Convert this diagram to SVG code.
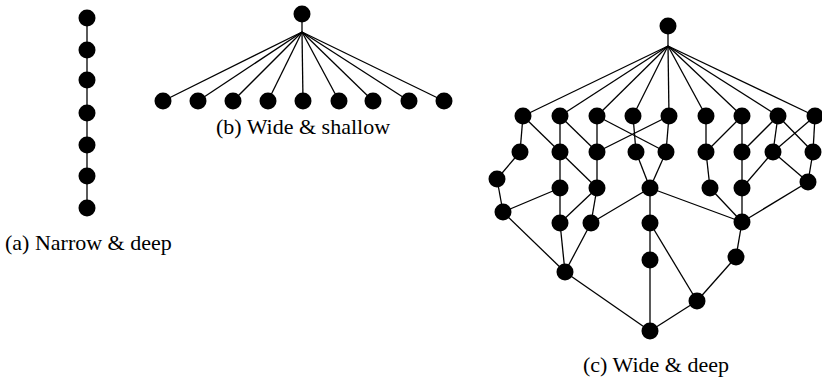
<svg xmlns="http://www.w3.org/2000/svg" width="822" height="379" viewBox="0 0 822 379">
  <style>
    .edge { stroke: #000; stroke-width: 1.3; fill: none; }
    .node { fill: #000; }
    .label { font-family: "Liberation Serif", "DejaVu Serif", serif; font-size: 22px; fill: #000; }
  </style>
  <rect width="822" height="379" fill="#fff"/>

  <!-- (a) chain -->
  <g id="edges-a">
    <line class="edge" x1="87" y1="18" x2="87" y2="208"/>
  </g>
  <g id="graph-a">
    <circle id="a-n1" class="node" cx="87" cy="18" r="8.5"/>
    <circle id="a-n2" class="node" cx="87" cy="50" r="8.5"/>
    <circle id="a-n3" class="node" cx="87" cy="80" r="8.5"/>
    <circle id="a-n4" class="node" cx="87" cy="113" r="8.5"/>
    <circle id="a-n5" class="node" cx="87" cy="145" r="8.5"/>
    <circle id="a-n6" class="node" cx="87" cy="176" r="8.5"/>
    <circle id="a-n7" class="node" cx="87" cy="208" r="8.5"/>
  </g>
  <text class="label" x="5" y="250">(a) Narrow &amp; deep</text>

  <!-- (b) star -->
  <g id="edges-b">
    <line class="edge" x1="302" y1="14" x2="302" y2="32"/>
    <line class="edge" x1="302" y1="32" x2="163" y2="101"/>
    <line class="edge" x1="302" y1="32" x2="198" y2="101"/>
    <line class="edge" x1="302" y1="32" x2="233" y2="101"/>
    <line class="edge" x1="302" y1="32" x2="268" y2="101"/>
    <line class="edge" x1="302" y1="32" x2="303" y2="101"/>
    <line class="edge" x1="302" y1="32" x2="339" y2="101"/>
    <line class="edge" x1="302" y1="32" x2="373" y2="101"/>
    <line class="edge" x1="302" y1="32" x2="409" y2="101"/>
    <line class="edge" x1="302" y1="32" x2="444" y2="101"/>
  </g>
  <g id="graph-b">
    <circle id="b-root" class="node" cx="302" cy="14" r="8.5"/>
    <circle id="b-1" class="node" cx="163" cy="101" r="8.5"/>
    <circle id="b-2" class="node" cx="198" cy="101" r="8.5"/>
    <circle id="b-3" class="node" cx="233" cy="101" r="8.5"/>
    <circle id="b-4" class="node" cx="268" cy="101" r="8.5"/>
    <circle id="b-5" class="node" cx="303" cy="101" r="8.5"/>
    <circle id="b-6" class="node" cx="339" cy="101" r="8.5"/>
    <circle id="b-7" class="node" cx="373" cy="101" r="8.5"/>
    <circle id="b-8" class="node" cx="409" cy="101" r="8.5"/>
    <circle id="b-9" class="node" cx="444" cy="101" r="8.5"/>
  </g>
  <text class="label" x="303" y="134" text-anchor="middle">(b) Wide &amp; shallow</text>

  <!-- (c) layered DAG -->
  <g id="edges-c">
    <line class="edge" x1="668" y1="26" x2="668" y2="46"/>
    <line class="edge" x1="668" y1="46" x2="523" y2="116"/>
    <line class="edge" x1="668" y1="46" x2="560" y2="116"/>
    <line class="edge" x1="668" y1="46" x2="597" y2="116"/>
    <line class="edge" x1="668" y1="46" x2="633" y2="116"/>
    <line class="edge" x1="668" y1="46" x2="669" y2="116"/>
    <line class="edge" x1="668" y1="46" x2="706" y2="116"/>
    <line class="edge" x1="668" y1="46" x2="742" y2="116"/>
    <line class="edge" x1="668" y1="46" x2="778" y2="116"/>
    <line class="edge" x1="668" y1="46" x2="815" y2="116"/>
    <!-- level 1 to level 2 -->
    <line class="edge" x1="523" y1="116" x2="520" y2="152"/>
    <line class="edge" x1="523" y1="116" x2="560" y2="152"/>
    <line class="edge" x1="560" y1="116" x2="560" y2="152"/>
    <line class="edge" x1="560" y1="116" x2="597" y2="152"/>
    <line class="edge" x1="597" y1="116" x2="597" y2="152"/>
    <line class="edge" x1="597" y1="116" x2="666" y2="152"/>
    <line class="edge" x1="633" y1="116" x2="636" y2="152"/>
    <line class="edge" x1="669" y1="116" x2="597" y2="152"/>
    <line class="edge" x1="669" y1="116" x2="666" y2="152"/>
    <line class="edge" x1="706" y1="116" x2="706" y2="152"/>
    <line class="edge" x1="742" y1="116" x2="706" y2="152"/>
    <line class="edge" x1="742" y1="116" x2="742" y2="152"/>
    <line class="edge" x1="778" y1="116" x2="742" y2="152"/>
    <line class="edge" x1="778" y1="116" x2="773" y2="152"/>
    <line class="edge" x1="778" y1="116" x2="813" y2="152"/>
    <line class="edge" x1="815" y1="116" x2="773" y2="152"/>
    <line class="edge" x1="815" y1="116" x2="813" y2="152"/>
    <!-- level 2 to level 3 -->
    <line class="edge" x1="520" y1="152" x2="497" y2="179"/>
    <line class="edge" x1="560" y1="152" x2="560" y2="188"/>
    <line class="edge" x1="560" y1="152" x2="597" y2="188"/>
    <line class="edge" x1="597" y1="152" x2="597" y2="188"/>
    <line class="edge" x1="636" y1="152" x2="650" y2="188"/>
    <line class="edge" x1="666" y1="152" x2="650" y2="188"/>
    <line class="edge" x1="706" y1="152" x2="710" y2="188"/>
    <line class="edge" x1="742" y1="152" x2="742" y2="188"/>
    <line class="edge" x1="773" y1="152" x2="742" y2="188"/>
    <line class="edge" x1="773" y1="152" x2="808" y2="182"/>
    <line class="edge" x1="813" y1="152" x2="808" y2="182"/>
    <!-- level 3 to level 4 -->
    <line class="edge" x1="497" y1="179" x2="503" y2="212"/>
    <line class="edge" x1="560" y1="188" x2="503" y2="212"/>
    <line class="edge" x1="560" y1="188" x2="560" y2="223"/>
    <line class="edge" x1="597" y1="188" x2="560" y2="223"/>
    <line class="edge" x1="597" y1="188" x2="591" y2="223"/>
    <line class="edge" x1="650" y1="188" x2="591" y2="223"/>
    <line class="edge" x1="650" y1="188" x2="650" y2="223"/>
    <line class="edge" x1="650" y1="188" x2="742" y2="222"/>
    <line class="edge" x1="710" y1="188" x2="742" y2="222"/>
    <line class="edge" x1="742" y1="188" x2="742" y2="222"/>
    <line class="edge" x1="808" y1="182" x2="742" y2="222"/>
    <!-- lower levels -->
    <line class="edge" x1="503" y1="212" x2="565" y2="272"/>
    <line class="edge" x1="560" y1="223" x2="565" y2="272"/>
    <line class="edge" x1="591" y1="223" x2="565" y2="272"/>
    <line class="edge" x1="650" y1="223" x2="650" y2="260"/>
    <line class="edge" x1="650" y1="223" x2="697" y2="301"/>
    <line class="edge" x1="742" y1="222" x2="736" y2="257"/>
    <line class="edge" x1="565" y1="272" x2="650" y2="331"/>
    <line class="edge" x1="650" y1="260" x2="650" y2="331"/>
    <line class="edge" x1="736" y1="257" x2="697" y2="301"/>
    <line class="edge" x1="697" y1="301" x2="650" y2="331"/>
  </g>
  <g id="graph-c">
    <circle id="c-root" class="node" cx="668" cy="26" r="8.5"/>
    <g id="c-level1">
      <circle class="node" cx="523" cy="116" r="8.5"/>
      <circle class="node" cx="560" cy="116" r="8.5"/>
      <circle class="node" cx="597" cy="116" r="8.5"/>
      <circle class="node" cx="633" cy="116" r="8.5"/>
      <circle class="node" cx="669" cy="116" r="8.5"/>
      <circle class="node" cx="706" cy="116" r="8.5"/>
      <circle class="node" cx="742" cy="116" r="8.5"/>
      <circle class="node" cx="778" cy="116" r="8.5"/>
      <circle class="node" cx="815" cy="116" r="8.5"/>
    </g>
    <g id="c-level2">
      <circle class="node" cx="520" cy="152" r="8.5"/>
      <circle class="node" cx="560" cy="152" r="8.5"/>
      <circle class="node" cx="597" cy="152" r="8.5"/>
      <circle class="node" cx="636" cy="152" r="8.5"/>
      <circle class="node" cx="666" cy="152" r="8.5"/>
      <circle class="node" cx="706" cy="152" r="8.5"/>
      <circle class="node" cx="742" cy="152" r="8.5"/>
      <circle class="node" cx="773" cy="152" r="8.5"/>
      <circle class="node" cx="813" cy="152" r="8.5"/>
    </g>
    <g id="c-level3">
      <circle class="node" cx="497" cy="179" r="8.5"/>
      <circle class="node" cx="560" cy="188" r="8.5"/>
      <circle class="node" cx="597" cy="188" r="8.5"/>
      <circle class="node" cx="650" cy="188" r="8.5"/>
      <circle class="node" cx="710" cy="188" r="8.5"/>
      <circle class="node" cx="742" cy="188" r="8.5"/>
      <circle class="node" cx="808" cy="182" r="8.5"/>
    </g>
    <g id="c-level4">
      <circle class="node" cx="503" cy="212" r="8.5"/>
      <circle class="node" cx="560" cy="223" r="8.5"/>
      <circle class="node" cx="591" cy="223" r="8.5"/>
      <circle class="node" cx="650" cy="223" r="8.5"/>
      <circle class="node" cx="742" cy="222" r="8.5"/>
    </g>
    <g id="c-level5">
      <circle class="node" cx="565" cy="272" r="8.5"/>
      <circle class="node" cx="650" cy="260" r="8.5"/>
      <circle class="node" cx="736" cy="257" r="8.5"/>
      <circle class="node" cx="697" cy="301" r="8.5"/>
    </g>
    <circle id="c-sink" class="node" cx="650" cy="331" r="8.5"/>
  </g>
  <text class="label" x="656" y="372" text-anchor="middle">(c) Wide &amp; deep</text>
</svg>
